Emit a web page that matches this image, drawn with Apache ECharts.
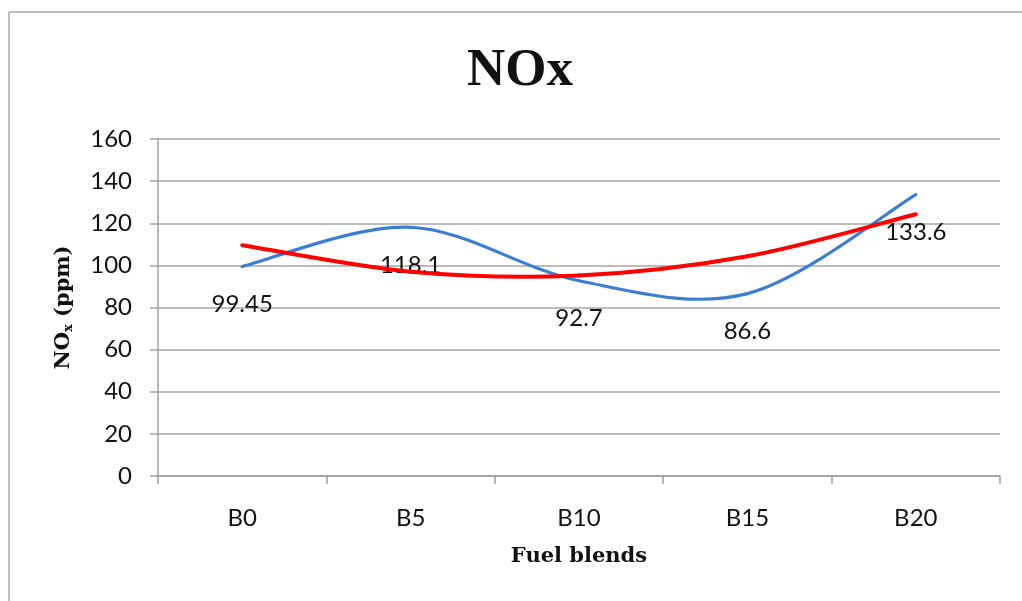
<!DOCTYPE html>
<html>
<head>
<meta charset="utf-8">
<script src="https://cdn.jsdelivr.net/npm/echarts@6/dist/echarts.min.js"></script>
<style>
html,body{margin:0;padding:0;background:#fff;}
#c{width:1022px;height:601px;}
</style>
</head>
<body>
<div id="c"></div>
<script>
const categories = ['B0', 'B5', 'B10', 'B15', 'B20'];
const noxValues = [99.45, 118.1, 92.7, 86.6, 133.6];
const trendValues = [109.6, 97.0, 95.2, 104.3, 124.3];
const yTicks = { min: 0, max: 160, interval: 20 };

const chart = echarts.init(document.getElementById('c'), null, { renderer: 'canvas' });
const serif = '"DejaVu Serif", "Liberation Serif", serif';
const titleSerif = '"Liberation Serif", serif';
const sans = 'Lato, "Open Sans", sans-serif';

// Smooth curve (Catmull-Rom style Bezier, like spreadsheet "smoothed line"), positions from the axes
function smoothRenderer(values, color, width, withLabels) {
  return function (params, api) {
    const i = params.dataIndex;
    const n = values.length;
    const pt = k => api.coord([Math.max(0, Math.min(n - 1, k)), values[Math.max(0, Math.min(n - 1, k))]]);
    const children = [];
    if (i < n - 1) {
      const p0 = pt(i - 1), p1 = pt(i), p2 = pt(i + 1), p3 = pt(i + 2);
      children.push({
        type: 'bezierCurve',
        shape: {
          x1: p1[0], y1: p1[1],
          cpx1: p1[0] + (p2[0] - p0[0]) / 6, cpy1: p1[1] + (p2[1] - p0[1]) / 6,
          cpx2: p2[0] - (p3[0] - p1[0]) / 6, cpy2: p2[1] - (p3[1] - p1[1]) / 6,
          x2: p2[0], y2: p2[1]
        },
        style: { stroke: color, lineWidth: width, fill: null, lineCap: 'round' }
      });
    }
    if (withLabels) {
      const p = pt(i);
      children.push({
        type: 'text',
        z2: 10,
        style: {
          text: String(values[i]),
          x: p[0], y: p[1] + 38,
          align: 'center', verticalAlign: 'middle',
          fontFamily: sans, fontSize: 24, fill: '#111'
        }
      });
    }
    return { type: 'group', children };
  };
}

chart.setOption({
  backgroundColor: '#ffffff',
  animation: false,
  title: {
    text: 'NOx',
    left: 467,
    top: 45,
    padding: 0,
    textStyle: { fontFamily: titleSerif, fontWeight: 'bold', fontSize: 53, color: '#111' }
  },
  graphic: [
    { type: 'line', shape: { x1: 9, y1: 12, x2: 1022, y2: 12 }, style: { stroke: '#bdbdbd', lineWidth: 2 } },
    { type: 'line', shape: { x1: 9, y1: 12, x2: 9, y2: 601 }, style: { stroke: '#bdbdbd', lineWidth: 2 } }
  ],
  grid: { left: 158, right: 22, top: 139, bottom: 125 },
  xAxis: {
    type: 'category',
    data: categories,
    boundaryGap: true,
    name: 'Fuel blends',
    nameLocation: 'middle',
    nameGap: 70,
    nameTextStyle: { fontFamily: serif, fontWeight: 'bold', fontSize: 21, color: '#111', verticalAlign: 'top' },
    axisLine: { show: true, lineStyle: { color: '#a0a0a0', width: 1.5 } },
    axisTick: { show: true, length: 8, lineStyle: { color: '#a0a0a0', width: 1.5 } },
    axisLabel: { margin: 30, fontFamily: sans, fontSize: 24, color: '#111' },
    splitLine: { show: false }
  },
  yAxis: {
    type: 'value',
    min: yTicks.min,
    max: yTicks.max,
    interval: yTicks.interval,
    name: 'NO{sub|x} (ppm)',
    nameLocation: 'middle',
    nameGap: 83,
    nameRotate: 90,
    nameTextStyle: {
      fontFamily: serif, fontWeight: 'bold', fontSize: 21, color: '#111',
      rich: { sub: { fontFamily: serif, fontWeight: 'bold', fontSize: 13, color: '#111', padding: [9, 0, 0, 0] } }
    },
    axisLine: { show: true, lineStyle: { color: '#a0a0a0', width: 1.5 } },
    axisTick: { show: true, length: 8, lineStyle: { color: '#a0a0a0', width: 1.5 } },
    axisLabel: { margin: 26, fontFamily: sans, fontSize: 24, color: '#111' },
    splitLine: { show: true, lineStyle: { color: '#a6a6a6', width: 1.5 } }
  },
  series: [
    {
      name: 'NOx',
      type: 'custom',
      z: 2,
      data: noxValues.map((v, i) => [i, v]),
      encode: { x: 0, y: 1 },
      renderItem: smoothRenderer(noxValues, '#3a7dd3', 3.2, true)
    },
    {
      name: 'Trend',
      type: 'custom',
      z: 3,
      data: trendValues.map((v, i) => [i, v]),
      encode: { x: 0, y: 1 },
      renderItem: smoothRenderer(trendValues, '#ff0000', 4, false)
    }
  ]
});
</script>
</body>
</html>
